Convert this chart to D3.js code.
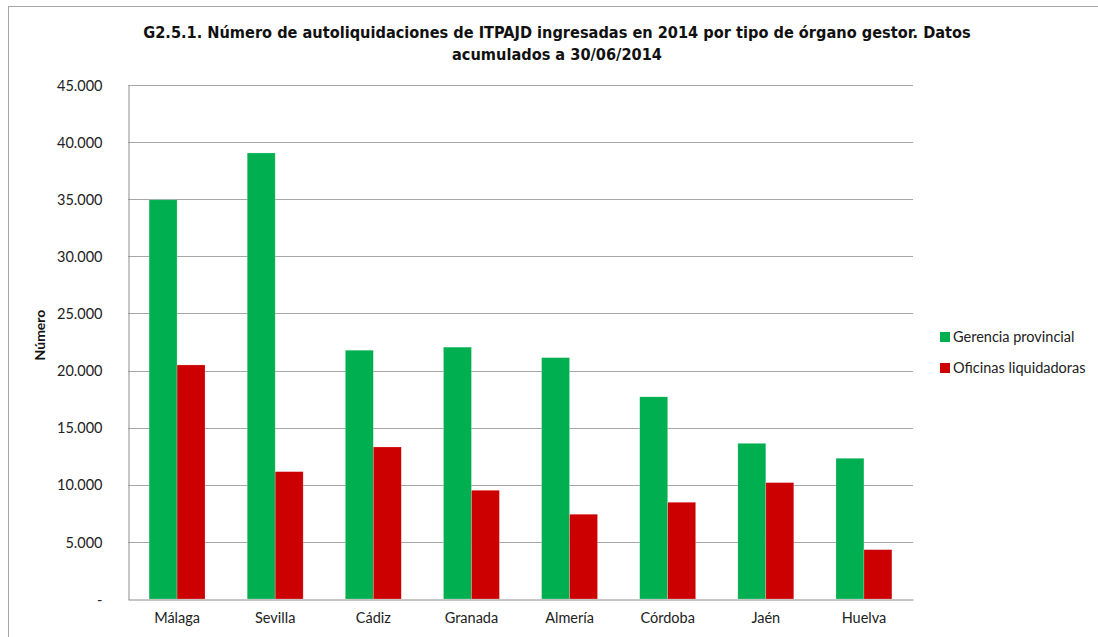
<!DOCTYPE html>
<html>
<head>
<meta charset="utf-8">
<script src="https://cdn.jsdelivr.net/npm/d3@7"></script>
<style>
  html, body { margin: 0; padding: 0; background: #fff; }
  svg { display: block; }
</style>
</head>
<body>
<svg id="chart" width="1098" height="637"></svg>
<script>
// Provinces and the two management bodies
const categories = ["Málaga", "Sevilla", "Cádiz", "Granada", "Almería", "Córdoba", "Jaén", "Huelva"];
const seriesNames = ["Gerencia provincial", "Oficinas liquidadoras"];
const gerencia = [34950, 39050, 21780, 22050, 21130, 17700, 13630, 12320];
const oficinas = [20490, 11150, 13310, 9520, 7420, 8470, 10190, 4320];
const yTicks = [0, 5000, 10000, 15000, 20000, 25000, 30000, 35000, 40000, 45000];
const colors = ["#00b050", "#cc0000"];

const titleLines = [
  "G2.5.1. Número de autoliquidaciones de ITPAJD ingresadas en 2014 por tipo de órgano gestor. Datos",
  "acumulados a 30/06/2014"
];

const svg = d3.select("#chart");
const plot = { left: 128, right: 913, top: 85, bottom: 599 };
const bodyFont = "Lato, 'Open Sans', sans-serif";
const bodySize = 14.5;

// Outer chart frame
svg.append("rect")
  .attr("x", 8.5).attr("y", 6.5)
  .attr("width", 1200).attr("height", 700)
  .attr("fill", "none").attr("stroke", "#a6a6a6").attr("stroke-width", 1);

const x0 = d3.scaleBand().domain(categories)
  .range([plot.left, plot.right])
  .paddingInner(0.43).paddingOuter(0.215);
const x1 = d3.scaleBand().domain(seriesNames).range([0, x0.bandwidth()]);
const y = d3.scaleLinear().domain([0, 45000]).range([plot.bottom, plot.top]);

const fmt = v => v === 0 ? "-" : d3.format(",")(v).replace(/,/g, ".");

// Horizontal gridlines
svg.append("g")
  .selectAll("line")
  .data(yTicks.filter(t => t > 0))
  .join("line")
  .attr("x1", plot.left).attr("x2", plot.right)
  .attr("y1", d => Math.round(y(d)) + 0.5).attr("y2", d => Math.round(y(d)) + 0.5)
  .attr("stroke", "#a6a6a6").attr("stroke-width", 1);

// Y axis
const yAxis = d3.axisLeft(y).tickValues(yTicks).tickFormat(fmt).tickSize(0).tickPadding(26);
const gy = svg.append("g").attr("transform", `translate(${plot.left + 0.5},0.5)`).call(yAxis);
gy.select(".domain").attr("stroke", "#8c8c8c");
gy.selectAll("text").attr("font-family", bodyFont).attr("font-size", bodySize).attr("fill", "#222");

// Bars
const groups = svg.append("g")
  .selectAll("g")
  .data(categories.map((c, i) => ({ c, vals: [gerencia[i], oficinas[i]] })))
  .join("g")
  .attr("transform", d => `translate(${x0(d.c)},0)`);

groups.selectAll("rect")
  .data(d => d.vals.map((v, k) => ({ v, k })))
  .join("rect")
  .attr("x", d => x1(seriesNames[d.k]))
  .attr("width", x1.bandwidth())
  .attr("y", d => y(d.v))
  .attr("height", d => y(0) - y(d.v))
  .attr("fill", d => colors[d.k])
  .attr("stroke", "rgba(255,255,255,0.35)").attr("stroke-width", 0.6);

// X axis
const xAxis = d3.axisBottom(x0).tickSize(0).tickPadding(13);
const gx = svg.append("g").attr("transform", `translate(0,${plot.bottom + 0.5})`).call(xAxis);
gx.select(".domain").attr("stroke", "#8c8c8c");
gx.selectAll("text").attr("font-family", bodyFont).attr("font-size", bodySize).attr("fill", "#222");

// Y axis title
svg.append("text")
  .attr("transform", `translate(45,335) rotate(-90)`)
  .attr("text-anchor", "middle")
  .attr("font-family", bodyFont).attr("font-size", 14).attr("font-weight", "bold")
  .attr("fill", "#111")
  .text("Número");

// Chart title
svg.append("g").selectAll("text")
  .data(titleLines)
  .join("text")
  .attr("x", 557).attr("y", (d, i) => 38 + i * 22)
  .attr("text-anchor", "middle")
  .attr("font-family", "'Liberation Sans Narrow', 'DejaVu Sans Condensed', sans-serif")
  .attr("font-size", 16.2).attr("font-weight", "bold")
  .attr("fill", "#111")
  .text(d => d);

// Legend
const legend = svg.append("g").attr("transform", "translate(940,332)");
const li = legend.selectAll("g").data(seriesNames).join("g")
  .attr("transform", (d, i) => `translate(0,${i * 31})`);
li.append("rect").attr("width", 10).attr("height", 10)
  .attr("fill", (d, i) => colors[i]);
li.append("text").attr("x", 13).attr("y", 10)
  .attr("font-family", bodyFont).attr("font-size", bodySize).attr("fill", "#222")
  .text(d => d);
</script>
</body>
</html>
